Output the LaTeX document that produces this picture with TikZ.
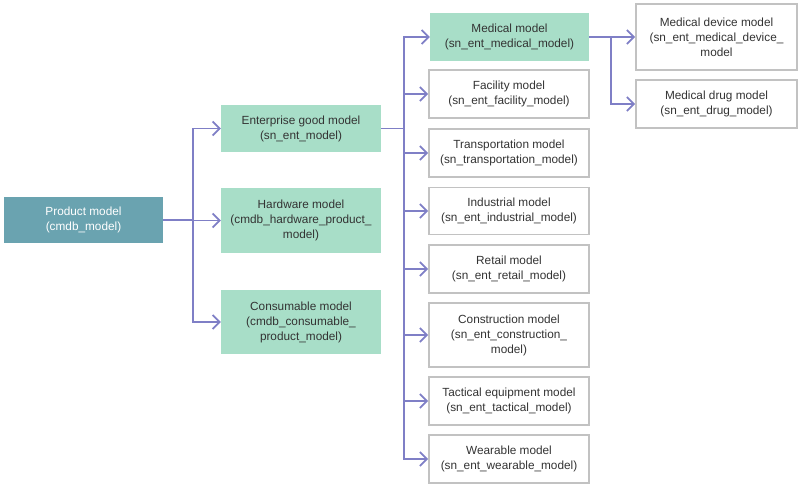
\documentclass[tikz,border=0pt]{standalone}
\usepackage{fontspec}
\setmainfont{Liberation Sans}
\usetikzlibrary{arrows.meta}
\definecolor{tealfill}{HTML}{6AA3B0}
\definecolor{greenfill}{HTML}{A8DEC8}
\definecolor{arrowcol}{HTML}{7F7FC6}
\definecolor{boxborder}{HTML}{C2C2C2}
\definecolor{txt}{HTML}{333333}
\begin{document}
\begin{tikzpicture}[x=1pt,y=-1pt,
  base/.style={inner sep=0pt, align=center, minimum width=160pt, minimum height=48pt,
    font=\fontsize{11.8}{15}\selectfont, text=txt},
  teal/.style={base, fill=tealfill, text=white},
  green/.style={base, fill=greenfill},
  plain/.style={base, draw=boxborder, line width=1.8pt, fill=white},
  arr/.style={draw=arrowcol, line width=1.7pt, -{Straight Barb[length=7pt,width=14pt,line width=1.7pt]}}
]
\useasboundingbox (0,0) rectangle (800,487);
\node[teal, minimum width=159pt, minimum height=46pt] (prod) at (83.5,220) {Product model\\(cmdb\_model)};
\node[green, minimum height=47pt] (ent) at (301,128.5) {Enterprise good model\\(sn\_ent\_model)};
\node[green, minimum height=65pt] (hw) at (301,220.5) {Hardware model\\(cmdb\_hardware\_product\_\\model)};
\node[green, minimum height=64pt] (cons) at (301,322) {Consumable model\\(cmdb\_consumable\_\\product\_model)};
\node[green, minimum width=159pt] (med) at (509.5,37) {Medical model\\(sn\_ent\_medical\_model)};
\node[plain] (fac) at (509,94) {Facility model\\(sn\_ent\_facility\_model)};
\node[plain] (trans) at (509,153) {Transportation model\\(sn\_transportation\_model)};
\node[plain, minimum height=47pt] (ind) at (509,211) {Industrial model\\(sn\_ent\_industrial\_model)};
\node[plain] (ret) at (509,269) {Retail model\\(sn\_ent\_retail\_model)};
\node[plain, minimum height=64pt] (constr) at (509,335) {Construction model\\(sn\_ent\_construction\_\\model)};
\node[plain] (tac) at (509,401) {Tactical equipment model\\(sn\_ent\_tactical\_model)};
\node[plain] (wear) at (509,459) {Wearable model\\(sn\_ent\_wearable\_model)};
\node[plain, minimum width=161pt, minimum height=66pt] (mdev) at (716.5,37) {Medical device model\\(sn\_ent\_medical\_device\_\\model};
\node[plain, minimum width=161pt] (mdrug) at (716.5,104) {Medical drug model\\(sn\_ent\_drug\_model)};
\coordinate (t1) at (193,220);
\coordinate (t2) at (404,128.5);
\coordinate (t3) at (611,37);
\foreach \n in {ent,hw,cons}
  \draw[arr] (prod.east) -- (t1) |- (\n.west);
\foreach \n in {med,fac,trans,ind,ret,constr,tac,wear}
  \draw[arr] (ent.east) -- (t2) |- (\n.west);
\foreach \n in {mdev,mdrug}
  \draw[arr] (med.east) -- (t3) |- (\n.west);
\end{tikzpicture}
\end{document}
